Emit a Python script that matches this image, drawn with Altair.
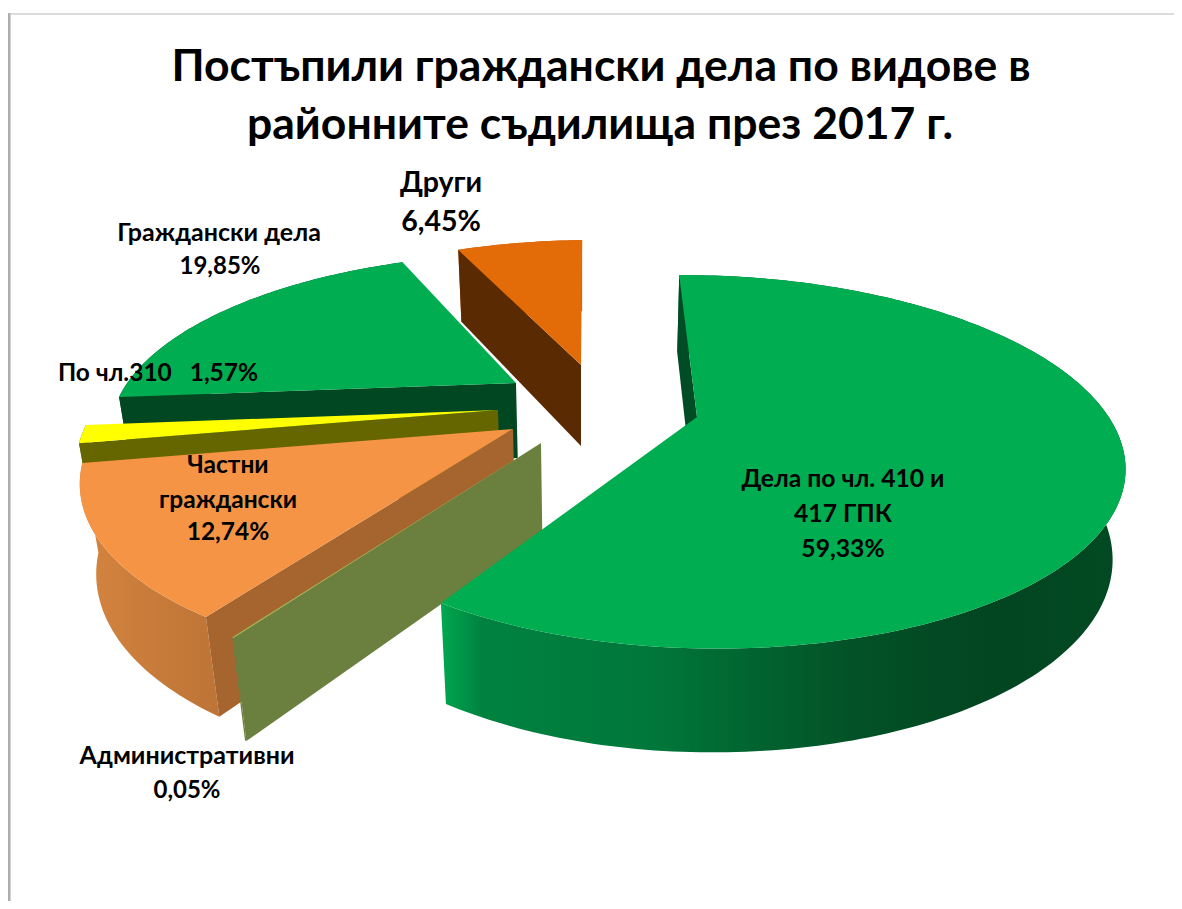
import math
import altair as alt
import pandas as pd

# ---- data ----
names = ["Дела по чл. 410 и 417 ГПК", "Административни", "Частни граждански",
         "По чл.310", "Граждански дела", "Други"]
shares = [59.33, 0.05, 12.74, 1.57, 19.85, 6.45]
title_lines = ["Постъпили граждански дела по видове в", "районните съдилища през 2017 г."]

# ---- page geometry ----
W, H = 1166, 893
PX0, PY0 = 8, 8
P = 0.24          # perspective strength
START = -2.0      # angle of the first slice, degrees clockwise from 12 o'clock
FONT = "Lato"

# one exploded slice: apex, radii, shears, depth
geom = {
    0: dict(ax=697, ay=417, R=414, Rl=402, ry=176, b=8, c=3.6, D=88),
    1: dict(ax=541, ay=443, R=467, ry=182, b=0, c=0, D=90),
    2: dict(ax=513, ay=429, R=411, ry=180, b=-33, c=6.5, D=87),
    3: dict(ax=498, ay=410, R=399, ry=173, b=-36, c=5.7, D=80),
    4: dict(ax=516, ay=383, R=385, ry=160, b=-29, c=5.2, D=75),
    5: dict(ax=581, ay=365, R=382, ry=155, b=-15, c=0, D=81),
}

angles = []
a = START
for s in shares:
    angles.append((a, a + s * 3.6))
    a += s * 3.6


def top(g, th):
    t = math.radians(th)
    u, v = math.sin(t), -math.cos(t)
    den = 1 - P * v
    r = g.get("Rl", g["R"]) if u < 0 else g["R"]
    return ((g["ax"] + (u * r + g["b"] * v) / den,
             g["ay"] + (g["ry"] * v + g["c"] * u) / den), den)


def drop(pt, den, D):
    d = D * den ** -0.6
    k = 0.036 if pt[0] < 580 else 0.026
    return (pt[0] + (580 - pt[0]) * k * d / 100, pt[1] + d)


def arc(g, a0, a1):
    n = max(2, int(abs(a1 - a0)) + 1)
    return [top(g, a0 + (a1 - a0) * k / (n - 1)) for k in range(n)]


XS = alt.Scale(domain=[PX0, PX0 + W], nice=False, zero=False)
YS = alt.Scale(domain=[PY0 + H, PY0], nice=False, zero=False)


def poly(points, fill):
    df = pd.DataFrame({"x": [p[0] for p in points], "y": [p[1] for p in points],
                       "i": list(range(len(points)))})
    return alt.Chart(df).mark_line(interpolate="linear-closed", fill=fill, strokeWidth=0,
                                   stroke="transparent").encode(
        x=alt.X("x:Q", scale=XS, axis=None),
        y=alt.Y("y:Q", scale=YS, axis=None),
        order="i:Q")


def surface(i, fill):
    g = geom[i]
    return poly([(g["ax"], g["ay"])] + [p for p, _ in arc(g, *angles[i])], fill)


def wall(i, fill):
    g = geom[i]
    pts = arc(g, *angles[i])
    return poly([p for p, _ in pts] + [drop(p, d, g["D"]) for p, d in reversed(pts)], fill)


def cut(i, th, fill):
    g = geom[i]
    p, d = top(g, th)
    apex = (g["ax"], g["ay"])
    return poly([apex, p, drop(p, d, g["D"]), drop(apex, 1, g["D"])], fill)


def grad(stops):
    return alt.Gradient(gradient="linear", x1=0, x2=1, y1=0, y2=0,
                        stops=[alt.GradientStop(offset=o, color=c) for o, c in stops])


layers = [
    # frame
    poly([(8, 13), (PX0 + W, 13), (PX0 + W, 15), (8, 15)], "#dcdcdc"),
    poly([(8, 13), (11, 13), (11, PY0 + H), (8, PY0 + H)],
         grad([(0, "#a8a8a8"), (0.6, "#b4b4b4"), (1, "#e4e4e4")])),
    # Други
    wall(5, "#c05a08"),
    cut(5, angles[5][0], "#5a2a02"),
    surface(5, "#e36c09"),
    # Граждански дела
    wall(4, "#00492a"),
    cut(4, angles[4][0], "#004722"),
    surface(4, "#00ad50"),
    # По чл.310
    wall(3, "#666600"),
    cut(3, angles[3][0], "#666600"),
    surface(3, "#ffff00"),
    # Частни граждански
    wall(2, grad([(0, "#d4843f"), (1, "#bd7436")])),
    cut(2, angles[2][0], "#a6652e"),
    surface(2, "#f49444"),
    # Административни
    wall(1, "#6b7f3f"),
    cut(1, angles[1][0], "#6b7f3f"),
    surface(1, "#9bbb59"),
    # Дела по чл. 410 и 417 ГПК
    wall(0, grad([(0, "#00a850"), (0.06, "#00823f"), (0.3, "#00783b"),
                  (0.6, "#035227"), (0.8, "#024521"), (1, "#014a22")])),
    cut(0, angles[0][0], "#004d25"),
    surface(0, "#00ad50"),
]


def pct(v):
    return f"{v:.2f}".replace(".", ",") + "%"


label_rows = [
    (title_lines[0], 601, 68, 44.5),
    (title_lines[1], 600, 126, 44.5),
    ("Други", 441, 183, 28.5),
    (pct(shares[5]), 441, 222, 28.5),
    ("Граждански дела", 219, 233, 25),
    (pct(shares[4]), 220, 267, 24),
    ("По чл.310\u00a0\u00a0\u00a0" + pct(shares[3]), 158, 374, 24.5),
    ("Частни", 228, 466, 24.5),
    ("граждански", 228, 501, 24.5),
    (pct(shares[2]), 228, 533, 24.5),
    ("Дела по чл. 410 и", 843, 480, 24.7),
    ("417 ГПК", 843, 515, 24.7),
    (pct(shares[0]), 843, 550, 24.7),
    ("Административни", 187, 756, 25),
    (pct(shares[1]), 187, 791, 24),
]
labels = pd.DataFrame(label_rows, columns=["t", "x", "y", "s"])
layers.append(
    alt.Chart(labels).mark_text(font=FONT, fontWeight="bold", color="#000000", baseline="middle",
                                align="center").encode(
        x=alt.X("x:Q", scale=XS, axis=None),
        y=alt.Y("y:Q", scale=YS, axis=None),
        size=alt.Size("s:Q", scale=None, legend=None),
        text="t:N"))

chart = alt.layer(*layers).properties(width=W, height=H, padding=0).configure_view(stroke=None)
chart.save("out.html", embed_options={"renderer": "svg", "actions": False})
